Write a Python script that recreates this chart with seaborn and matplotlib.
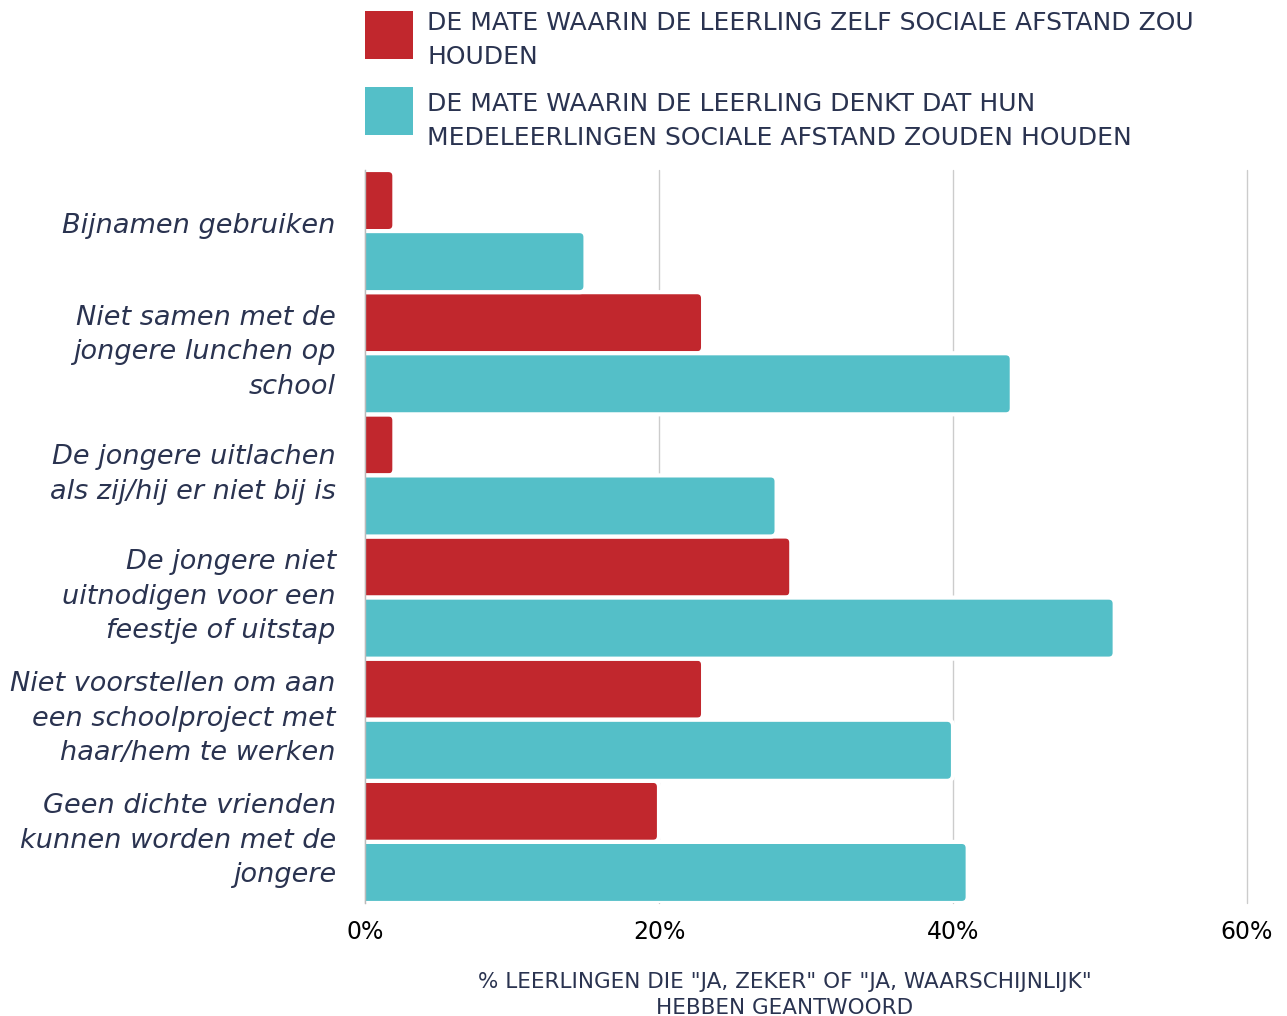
import pandas as pd
import matplotlib.pyplot as plt
from matplotlib.patches import FancyBboxPatch, Rectangle
from matplotlib.transforms import ScaledTranslation
import seaborn as sns

# categories and values (% of students)
categories = [
    "Bijnamen gebruiken",
    "Niet samen met de\njongere lunchen op\nschool",
    "De jongere uitlachen\nals zij/hij er niet bij is",
    "De jongere niet\nuitnodigen voor een\nfeestje of uitstap",
    "Niet voorstellen om aan\neen schoolproject met\nhaar/hem te werken",
    "Geen dichte vrienden\nkunnen worden met de\njongere",
]
zelf = [2, 23, 2, 29, 23, 20]
medeleerlingen = [15, 44, 28, 51, 40, 41]
series_names = [
    "DE MATE WAARIN DE LEERLING ZELF SOCIALE AFSTAND ZOU\nHOUDEN",
    "DE MATE WAARIN DE LEERLING DENKT DAT HUN\nMEDELEERLINGEN SOCIALE AFSTAND ZOUDEN HOUDEN",
]
x_ticks = [0, 20, 40, 60]

navy = "#2A3350"
colors = ["#C1272D", "#54BFC8"]

df = pd.DataFrame({
    "categorie": categories * 2,
    "waarde": zelf + medeleerlingen,
    "reeks": [series_names[0]] * len(categories) + [series_names[1]] * len(categories),
})

sns.set_style("white")
plt.rcParams["font.family"] = ["DejaVu Sans"]

W, H = 1287, 1016
fig = plt.figure(figsize=(W / 100, H / 100), dpi=100)
ax = fig.add_axes([365 / W, 1 - 903 / H, 882 / W, 733 / H])

sns.barplot(data=df, y="categorie", x="waarde", hue="reeks", orient="h",
            palette=colors, saturation=1, width=1.0, edgecolor="white",
            linewidth=3, ax=ax, zorder=3, legend=False)

ax.set_xlim(0, 60)
ax.set_ylim(5.5, -0.5)

# rounded right ends: swap the seaborn rectangles for rounded boxes that start
# left of the axis (clipped), so only the right corners show rounding
px_x = 882 / 60.0
px_y = 733 / 6.0
for bar in list(ax.patches):
    x0, y0 = bar.get_x(), bar.get_y()
    w, h = bar.get_width(), bar.get_height()
    if w <= 0:
        continue
    ext = 1.0
    fb = FancyBboxPatch((x0 - ext, y0), w + ext, h,
                        boxstyle="round,pad=0,rounding_size=%f" % (6 / px_x),
                        mutation_aspect=px_x / px_y,
                        facecolor=bar.get_facecolor(), edgecolor="white",
                        linewidth=3, zorder=3)
    bar.set_visible(False)
    ax.add_patch(fb)

ax.set_xticks(x_ticks)
ax.set_xticklabels([f"{t}%" for t in x_ticks], fontsize=17, color="black")
ax.tick_params(axis="x", pad=12, length=0)
ax.tick_params(axis="y", pad=21, length=0)
shift_up = ScaledTranslation(0, 6 / 72, fig.dpi_scale_trans)
for lab in ax.get_yticklabels():
    lab.set_fontstyle("italic")
    lab.set_fontsize(19.5)
    lab.set_color(navy)
    lab.set_linespacing(1.43)
    lab.set_ha("right")
    lab.set_transform(lab.get_transform() + shift_up)

ax.grid(axis="x", color="#cccccc", linewidth=1, zorder=0)
for gl in ax.get_xgridlines():
    gl.set_clip_on(False)
for s in ["top", "right", "bottom"]:
    ax.spines[s].set_visible(False)
ax.spines["left"].set_color("#bbbbbb")
ax.spines["left"].set_linewidth(1)
ax.spines["left"].set_zorder(5)

ax.set_ylabel("")
ax.set_xlabel('% LEERLINGEN DIE "JA, ZEKER" OF "JA, WAARSCHIJNLIJK"\nHEBBEN GEANTWOORD',
              fontsize=15.5, color=navy, linespacing=1.35)
ax.xaxis.set_label_coords((785 - 365) / 882, -(1018 - 903) / 733)
ax.xaxis.label.set_va("bottom")

# legend: colour squares with two-line labels above the plot
legend_tops = [11, 87]
legend_text_centres = [40, 121]
for col, name, top, tc in zip(colors, series_names, legend_tops, legend_text_centres):
    fig.patches.append(Rectangle((365 / W, 1 - (top + 48) / H), 48 / W, 48 / H,
                                 transform=fig.transFigure, facecolor=col,
                                 edgecolor="none"))
    fig.text(427 / W, 1 - tc / H, name, fontsize=18, color=navy,
             ha="left", va="center", linespacing=1.55)

fig.savefig("out.png", dpi=100)
